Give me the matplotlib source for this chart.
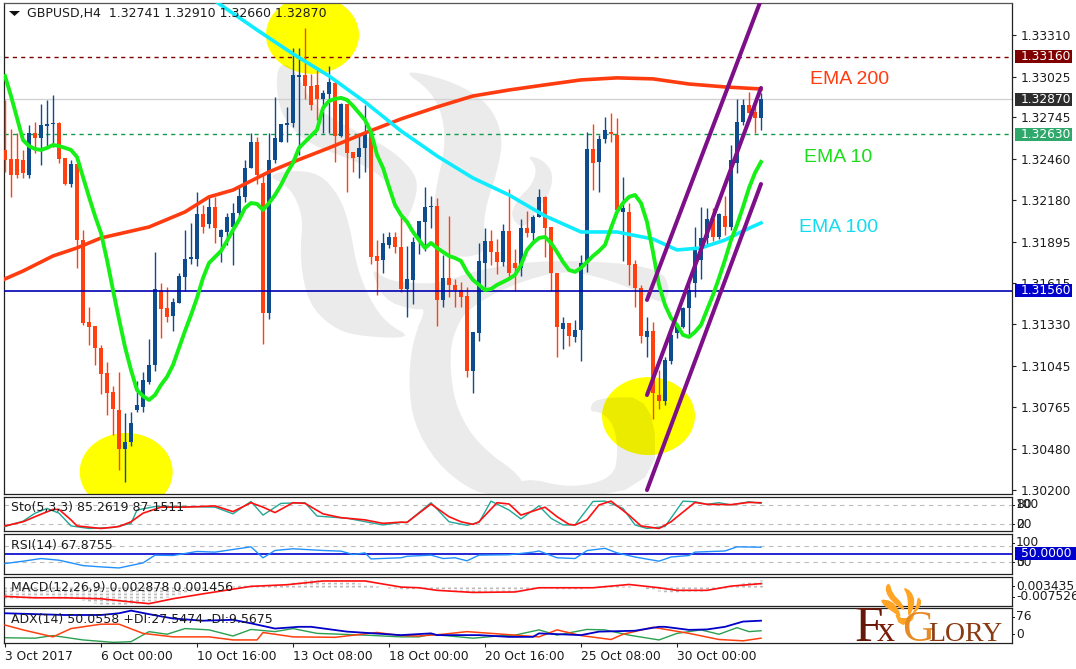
import numpy as np
import matplotlib
matplotlib.use("Agg")
import matplotlib.pyplot as plt
from matplotlib.patches import Ellipse, Polygon, Rectangle, PathPatch
from matplotlib.path import Path
from matplotlib.transforms import Affine2D, blended_transform_factory

W, H = 1076, 669
SCALE = 1e5  # prices below are stored in points

opens = [132523,132461,132461,132455,132352,132639,132605,132687,132701,132708,
132468,132290,132427,131907,131347,131319,131169,130998,130868,130745,
130478,130526,130745,130765,130936,131052,131565,131442,131388,131476,
131654,131777,131777,132085,132017,132133,131928,131962,131996,132092,
132202,132400,132578,132297,131408,132455,132578,132694,132708,133022,
133036,132961,132968,132872,132906,132981,132619,132838,132509,132475,
132537,132639,131798,131771,131873,131928,131860,131572,131634,131914,
132031,132133,132140,131497,131647,131600,131565,131524,131011,131271,
131750,131901,131825,131757,131969,131750,131716,131989,131955,132065,
132202,131996,131682,131299,131340,131244,131292,131750,132530,132441,
132598,132646,132626,132099,132099,131743,131579,131244,131285,130847,
130806,131080,131271,131312,131442,131613,131771,131921,132051,131928,
132072,131996,132434,132715,132831,132783,132741]
highs = [132865,132667,132639,132523,132694,132715,132838,132865,132899,132715,
132468,132455,132427,131976,131449,131319,131189,131073,130909,131005,
130724,130731,130943,131005,131230,131825,131613,131586,131511,131682,
131976,132024,132236,132147,132202,132202,131983,132092,132160,132270,
132455,132639,132612,132352,132639,132886,132701,132817,133221,133221,
133357,133043,133070,132933,133098,133002,132844,132838,132509,132639,
132831,132660,131907,131955,131962,131962,132065,131866,131928,132037,
132270,132208,132195,131805,132072,131641,131620,131586,131278,131887,
131989,131976,131914,132017,132256,131846,132051,132106,132078,132256,
132208,131996,131682,131381,131340,131360,131805,132646,132701,132626,
132749,132776,132742,132338,132160,131771,131600,131381,131347,131018,
131107,131278,131340,131449,131613,131996,132133,132126,132126,132092,
132208,132557,132872,132872,132920,132865,132910]
lows = [132373,132202,132331,132331,132331,132502,132420,132544,132544,132434,
132284,132270,131716,131326,131189,131052,130854,130710,130574,130334,
130252,130498,130731,130731,130922,131011,131237,131347,131285,131476,
131559,131743,131730,131955,131989,131887,131757,131873,131736,132058,
132167,132400,132290,131196,131367,132434,132578,132578,132680,132489,
132872,132797,132728,132639,132639,132441,132612,132236,132373,132331,
132373,131743,131531,131682,131853,131818,131552,131381,131470,131812,
131832,131989,131319,131449,131518,131449,131449,130970,130861,131217,
131586,131736,131675,131730,131641,131559,131661,131928,131887,132065,
131791,131559,131107,131162,131182,131210,131080,131689,132249,132236,
132571,132578,132113,131764,131600,131449,131203,131107,130683,130751,
130779,131059,131237,131305,131251,131518,131641,131880,131901,131914,
131942,131976,132366,132694,132776,132639,132660]
closes = [132455,132352,132352,132366,132639,132605,132694,132701,132708,132461,
132290,132427,131907,131340,131312,131169,130991,130861,130751,130478,
130526,130656,130779,130950,131052,131572,131435,131381,131483,131661,
131777,131791,132085,131996,132133,131989,131976,132065,132092,132208,
132400,132578,132352,131408,132455,132605,132701,132708,133036,133036,
132961,132831,132872,132913,132988,132619,132838,132502,132468,132537,
132639,131791,131764,131887,131928,131860,131572,131641,131894,132037,
132133,132140,131497,131647,131600,131565,131518,131011,131278,131764,
131901,131825,131757,131969,131682,131716,131989,131955,132065,132202,
131989,131682,131312,131340,131251,131292,131750,132530,132434,132598,
132660,132632,132113,132126,131736,131579,131251,131285,130861,130806,
131087,131258,131326,131442,131565,131846,131921,132051,131928,132085,
131996,132455,132715,132831,132776,132742,132870]

ema10 = [133029,132892,132742,132591,132550,132530,132523,132537,132557,132550,
132537,132523,132475,132338,132202,132072,131955,131771,131565,131367,
131176,131018,130881,130840,130813,130847,130916,130971,131052,131169,
131285,131394,131511,131647,131750,131791,131832,131901,131976,132044,
132126,132160,132154,132113,132160,132215,132284,132366,132434,132537,
132578,132619,132660,132810,132858,132872,132879,132865,132824,132776,
132728,132646,132489,132400,132270,132147,132078,132031,131962,131907,
131853,131887,131853,131825,131798,131784,131764,131689,131634,131600,
131565,131572,131600,131620,131641,131668,131736,131839,131887,131921,
131928,131887,131825,131757,131702,131689,131716,131757,131798,131832,
131873,131989,132099,132160,132202,132215,132160,132031,131825,131600,
131463,131374,131326,131258,131244,131278,131326,131429,131531,131647,
131771,131907,132010,132133,132263,132366,132441]

ema100_idx = [35,42,48,54,60,66,72,78,84,90,96,102,108,112,116,120,123,126]
ema100 = [133542,133344,133180,133029,132851,132653,132482,132331,132215,132072,131962,131962,131914,131839,131853,131907,131969,132024]

ema200_idx = [0,3,8,12,16,24,30,34,38,44,48,54,60,66,72,78,84,90,96,102,108,114,120,126]
ema200 = [131641,131695,131798,131853,131921,131996,132099,132202,132249,132373,132441,132537,132639,132735,132817,132892,132933,132968,133002,133016,133009,132974,132954,132940]

channel_idx = [107, 126]
channel_top = [131497, 133549]
channel_mid = [130847, 132947]
channel_low = [130197, 132290]

price_ticks = [1.33310,1.33025,1.32745,1.32460,1.32180,1.31895,1.31615,1.31330,1.31045,1.30765,1.30480,1.30200]
resistance = 1.33160
last_price = 1.32870
pivot = 1.32630
support = 1.31560

time_tick_idx = [0,16,32,48,64,80,96,112]
time_labels = ["3 Oct 2017","6 Oct 00:00","10 Oct 16:00","13 Oct 08:00","18 Oct 00:00","20 Oct 16:00","25 Oct 08:00","30 Oct 00:00"]

sto_sig_idx = [0,3,5,8,9,11,12,16,19,21,23,26,30,35,38,41,43,45,48,50,53,56,60,63,66,67,71,74,76,78,79,82,84,86,90,92,94,95,97,99,101,104,106,109,111,115,117,121,124,126]
sto_sig = [14,27,43,66,66,33,14,6,12,27,54,73,73,77,59,87,73,56,87,85,52,40,33,22,26,25,83,43,27,19,27,87,83,48,73,43,19,17,33,80,92,48,14,6,27,88,82,81,88,87]
sto_main_idx = [0,3,5,7,9,11,14,18,21,22,25,30,35,38,41,43,46,50,52,57,63,66,67,71,74,77,79,81,84,86,89,91,93,95,98,100,103,105,107,110,113,115,117,119,121,124,126]
sto_main = [12,29,54,69,54,14,6,9,22,64,75,75,73,52,91,48,85,87,45,38,17,25,25,87,27,16,25,92,64,36,77,38,17,17,91,92,69,17,6,12,92,90,82,87,80,90,85]

rsi_idx = [0,3,6,9,13,16,19,23,25,28,32,35,41,43,45,48,53,56,58,60,61,66,67,71,73,75,77,79,84,88,89,92,95,97,100,102,105,109,111,114,115,120,122,126]
rsi = [24.7,30.9,38,33.6,19.3,15.8,13,26.4,46.9,46,56.7,54.9,69,39.8,59.3,63.8,59.3,57.6,48.7,53,37,40,44,47,38,40,32,47,48,55,58,40,38,59,65,53,42,31,42,46,55,58,69,68]

macd_hist = [-5,-5,-5.2,-5,-4.5,-4.3,-4,-4,-4.2,-4.5,-4.6,-4.8,-5.1,-5.7,-6.4,-6.9,-7.1,-7.3,-7.3,-7.2,
-7.2,-7,-7,-6.8,-6.6,-5.5,-4.8,-4.2,-3.6,-3,-2.3,-1.8,-1.2,-.8,-.5,-.2,.1,.3,.5,.8,
1.0,1.2,1.2,.9,1,1.2,1.3,1.4,2,2.6,2.9,3,3,2.8,2.8,2.9,2.8,2.6,2.2,1.8,
1.5,1,.6,.2,-.2,-.5,-.8,-.8,-.7,-.4,-.5,-.7,-1,-1.3,-1.5,-1.7,-1.8,-1.9,-2,-1.9,
-1.8,-1.8,-1.8,-1.6,-1.7,-1.6,-1.3,-1,-.9,-.6,-.3,-.5,-.7,-.9,-1,-1,-.9,-.6,-.1,.3,
.7,.9,.9,.6,.3,.2,-.1,-.7,-1.2,-1.6,-1.9,-2.1,-2,-1.8,-1.8,-1.6,-1.5,-1.3,-1.1,-.9,
-.2,.4,1,1.6,2.2,2.6,2.88]
macd_sig_idx = [0,5,10,16,20,24,28,33,41,47,53,60,66,69,72,78,85,89,98,104,109,112,117,121,126]
macd_sig = [-4,-4.6,-4.6,-5,-6.1,-7.1,-5,-2.9,.3,1,2.6,2.6,0,-.3,-1.4,-2.3,-2.1,-.3,-.3,1.1,-.3,-1.4,-1.4,.4,1.46]

adx_idx = [0,10,16,19,21,24,28,33,38,41,45,49,51,57,66,71,72,79,84,88,89,96,99,105,109,110,114,117,120,123,126]
adx = [67,63,63,67,73,65,55,50,52,44,32,36,36,25,17,21,17,17,13,13,21,17,25,27,36,36,29,30,36,48,50]
di_minus_idx = [0,3,8,11,16,19,23,28,34,38,42,43,48,55,62,66,69,73,77,83,89,92,96,101,103,108,114,119,123,126]
di_minus = [40,29,13,32,42,42,21,13,13,6,6,23,13,12,23,16,15,19,25,19,13,29,16,7,19,35,21,7,4,10]
di_plus_idx = [0,5,8,13,18,21,24,27,30,34,38,41,45,48,52,60,66,69,71,78,83,85,89,92,97,100,104,109,112,116,119,122,124,126]
di_plus = [11,10,16,6,.5,2,25,19,32,29,15,30,25,32,21,17,13,13,19,10,16,17,29,17,30,29,17,6,21,29,19,34,25,27]

# ---------- style ----------
plt.rcParams["font.family"] = "DejaVu Sans"
FS = 8.8
CAP = 9.0
TXT = "#1c1c1c"
BLUE = "#0f4c8e"
RED = "#ff4010"

fig = plt.figure(figsize=(W / 100, H / 100), dpi=100, facecolor="white")
px = Affine2D().scale(1, -1).translate(0, H)


def pane(top, bottom):
    a = fig.add_axes([4 / W, 1 - bottom / H, 1008 / W, (bottom - top) / H])
    a.set_xlim(-1 / 6, 1007 / 6)
    a.set_xticks([])
    a.set_yticks([])
    for s in a.spines.values():
        s.set_linewidth(0.9)
        s.set_color("#222222")
    return a


def smooth(pts, n=2):
    p = np.array(pts, float)
    for _ in range(n):
        q = np.roll(p, -1, axis=0)
        p = np.column_stack([0.75 * p + 0.25 * q, 0.25 * p + 0.75 * q]).reshape(-1, 2)
    return p


def zoomed(pts):
    return [(270 + x / 3, 70 + y / 3) for x, y in pts]


ax = pane(3, 494)
ax.set_ylim(1.30170, 1.33528)
ax.spines["top"].set_color("#555555")

x = np.arange(len(closes))
O, Hi, Lo, C = [np.array(v) / SCALE for v in (opens, highs, lows, closes)]
up = C >= O

# highlight ellipses
for cx, cy in [(51.25, 1.33310), (20.2, 1.30321), (107.25, 1.30703)]:
    ax.add_patch(Ellipse((cx, cy), 93 / 6, 78 * 0.0000684, fc="#ffff00", ec="none", zorder=1))

# watermark
wm = [
    [(60,300),(150,310),(210,380),(240,470),(260,590),(300,690),(350,760),(430,805),(280,800),(200,780),(130,720),(100,640),(90,540),(100,440),(60,350),(-10,318)],
    [(25,-20),(70,-10),(130,110),(250,180),(350,230),(420,290),(445,340),(430,410),(395,480),(385,400),(340,320),(250,270),(120,225),(40,150),(18,60)],
    [(395,0),(500,20),(600,60),(670,120),(700,210),(680,310),(650,400),(640,470),(650,560),(500,560),(490,430),(500,340),(525,240),(520,140),(480,60)],
    [(770,255),(820,270),(850,310),(840,370),(800,420),(760,480),(720,440),(740,390),(790,340),(800,290)],
    [(300,590),(350,630),(430,640),(510,640),(620,600),(800,572),(1000,575),(1130,590),(1195,620),(1195,705),(1130,680),(1050,640),(900,600),(780,625),(650,680),(560,750),(540,830),(430,800),(470,715),(430,720),(340,690)],
    [(480,700),(430,800),(415,930),(430,1060),(500,1180),(600,1260),(680,1278),(760,1278),(760,1222),(630,1130),(560,1020),(540,900),(545,800),(600,700)],
    [(957,1025),(975,982),(1155,982),(1155,1278),(680,1278),(760,1220),(900,1255),(1030,1225),(1045,1140),(1030,1060),(990,1025)],
]
wm_paths = []
for shape in wm:
    p = smooth(zoomed(shape))
    area = 0.5 * np.sum(p[:, 0] * np.roll(p[:, 1], -1) - np.roll(p[:, 0], -1) * p[:, 1])
    if area < 0:
        p = p[::-1]
    wm_paths.append(Path(np.vstack([p, p[:1]]), closed=True))
ax.add_patch(PathPatch(Path.make_compound_path(*wm_paths), fc="black", ec="none", alpha=0.08, transform=px, zorder=1.5))

# levels
ax.axhline(resistance, color="#800000", lw=1, ls=(0, (3, 3)), zorder=2)
ax.axhline(last_price, color="#d2d2d2", lw=1, zorder=2)
ax.axhline(pivot, color="#109a50", lw=1, ls=(0, (3, 3)), zorder=2)
ax.axhline(support, color="#0000b4", lw=1.2, zorder=4.5)

# candles
ax.vlines(x[up], Lo[up], Hi[up], color=BLUE, lw=1.0, zorder=3)
ax.vlines(x[~up], Lo[~up], Hi[~up], color=RED, lw=1.0, zorder=3)
bw = 4 / 6
ax.bar(x[up], (C - O)[up], bottom=O[up], width=bw, color=BLUE, lw=0, zorder=3.2)
ax.bar(x[~up], (C - O)[~up], bottom=O[~up], width=bw, color=RED, lw=0, zorder=3.2)

# moving averages
ax.plot(ema200_idx, np.array(ema200) / SCALE, color="#ff3c10", lw=2.6, zorder=4)
ax.plot(ema100_idx, np.array(ema100) / SCALE, color="#10ecff", lw=2.6, zorder=4)
ax.plot(x, np.array(ema10) / SCALE, color="#16f016", lw=2.8, zorder=5)

# channel
for ch in (channel_top, channel_mid, channel_low):
    ax.plot(channel_idx, np.array(ch) / SCALE, color="#7d0f88", lw=2.9, zorder=6, solid_capstyle="round")

ax.yaxis.tick_right()
ax.set_yticks(price_ticks)
ax.set_yticklabels([f"{t:.5f}" for t in price_ticks])
ax.tick_params(axis="y", length=3, width=0.8, color="#222222", labelsize=FS, labelcolor=TXT, pad=3)

# price tags
tagtf = blended_transform_factory(ax.transAxes, ax.transData)
tagx = (1021 - 4) / 1008
PXP = 0.0000684
for val, bg, txt in [(resistance, "#800000", "1.33160"), (last_price, "#2d2d2d", "1.32870"),
                     (pivot, "#2fa86c", "1.32630"), (support, "#0000cc", "1.31560")]:
    ax.add_patch(Rectangle((1011 / 1008, val - 6.5 * PXP), 57 / 1008, 13 * PXP, transform=tagtf, fc=bg, ec="none",
                           clip_on=False, zorder=9))
    ax.text(tagx, val, txt, transform=tagtf, color="white", fontsize=FS, va="center", ha="left", clip_on=False, zorder=10)

# title and labels
ax.add_patch(Polygon([(9, 11), (20, 11), (14.5, 16)], closed=True, fc="#111111", ec="none", transform=px, zorder=8))
ax.text(27, 13, "GBPUSD,H4  1.32741 1.32910 1.32660 1.32870", transform=px, fontsize=CAP, color=TXT, va="center", zorder=8)
ax.text(810, 79, "EMA 200", transform=px, fontsize=14, family="Liberation Sans", color="#ff3c10", va="center", zorder=8)
ax.text(804, 158, "EMA 10", transform=px, fontsize=14, family="Liberation Sans", color="#1cdc1c", va="center", zorder=8)
ax.text(799, 228, "EMA 100", transform=px, fontsize=14, family="Liberation Sans", color="#14dcf0", va="center", zorder=8)

# ---------- stochastic ----------
a1 = pane(497, 531)
a1.set_ylim(-2, 105)
for lv in (80, 20):
    a1.axhline(lv, color="#bdbdbd", lw=0.8, ls=(0, (4, 4)), zorder=1)
a1.plot(sto_main_idx, sto_main, color="#22a898", lw=1.0, zorder=3)
a1.plot(sto_sig_idx, sto_sig, color="#ff1010", lw=1.2, zorder=4)

# ---------- RSI ----------
a2 = pane(534, 574)
a2.set_ylim(-3, 103)
for lv in (70, 30):
    a2.axhline(lv, color="#bdbdbd", lw=0.8, ls=(0, (4, 4)), zorder=1)
a2.axhline(50, color="#0000cc", lw=1.2, zorder=2)
a2.plot(rsi_idx, rsi, color="#2090ff", lw=1.0, zorder=3)

# ---------- MACD ----------
a3 = pane(577, 606)
a3.set_ylim(-8.1, 4.3)
hist = np.array(macd_hist)
a3.vlines(x, np.zeros_like(hist), hist, color="#bcbcbc", lw=2.2, linestyles=(0, (0.55, 0.45)), zorder=2)
a3.plot(macd_sig_idx, macd_sig, color="#ff1010", lw=1.2, zorder=3)

# ---------- ADX ----------
a4 = pane(608, 643)
a4.set_ylim(-1, 79)
a4.plot(di_plus_idx, di_plus, color="#2aa050", lw=1.0, zorder=2)
a4.plot(di_minus_idx, di_minus, color="#ff4010", lw=1.1, zorder=3)
a4.plot(adx_idx, adx, color="#0000c8", lw=1.3, zorder=4)
a4.set_xticks(time_tick_idx)
a4.set_xticklabels(time_labels, ha="left")
a4.tick_params(axis="x", length=3, width=0.8, color="#222222", labelsize=FS, labelcolor=TXT, pad=2)

# pane captions
for a, y, s in [(a1, 508, "Sto(5,3,3) 85.2619 87.1511"), (a2, 545, "RSI(14) 67.8755"),
                (a3, 588, "MACD(12,26,9) 0.002878 0.001456"), (a4, 619, "ADX(14) 50.0558 +DI:27.5474 -DI:9.5675")]:
    a.text(11, y, s, transform=px, fontsize=CAP, color=TXT, va="center", zorder=8, clip_on=False)

# right-hand scale texts of the sub panes
for a, y, s in [(a1, 505, "100"), (a1, 505, "80"), (a1, 524, "20"), (a1, 524, "0"),
                (a2, 543, "100"), (a2, 562, "30"), (a2, 562, "0"),
                (a3, 586, "0.003435"), (a3, 597, "-0.007526"), (a4, 617, "76"), (a4, 634, "0")]:
    a.text(1016, y, s, transform=px, fontsize=FS, color=TXT, va="center", ha="left", clip_on=False)
    a.add_patch(Rectangle((1012, y - 0.5), 3, 1, transform=px, fc="#222222", ec="none", clip_on=False))
a2.add_patch(Rectangle((1015, 547), 61, 13, transform=px, fc="#0000cc", ec="none", clip_on=False, zorder=9))
a2.text(1021, 553.5, "50.0000", transform=px, fontsize=FS, color="white", va="center", ha="left", clip_on=False, zorder=10)

# ---------- logo ----------
flames = [
    [(889,582),(893,594),(902,603),(905,611),(897,606),(888,597),(885,588)],
    [(880,599),(892,601),(899,610),(901,618),(893,612),(884,606)],
    [(903,587),(911,591),(915,601),(912,612),(908,617),(908,604),(907,595)],
    [(918,596),(916,607),(910,617),(918,610),(922,602)],
    [(894,612),(904,620),(915,612),(912,622),(900,626)],
]
for f in flames:
    fig.add_artist(Polygon(smooth(f, 1), closed=True, fc="#ffa424", ec="none", transform=px, zorder=20))
logo_kw = dict(family="Liberation Serif", va="baseline", ha="left", zorder=21, transform=px)
fig.text(855, 641, "F", fontsize=37, color="#661808", **logo_kw)
fig.text(877, 641, "x", fontsize=26, color="#7a1e0a", **logo_kw)
fig.text(902, 641, "G", fontsize=32, color="#e58a25", **logo_kw)
fig.text(928, 641, "LORY", fontsize=20, color="#8a3a10", **logo_kw)

fig.savefig("out.png", dpi=100, facecolor="white")
